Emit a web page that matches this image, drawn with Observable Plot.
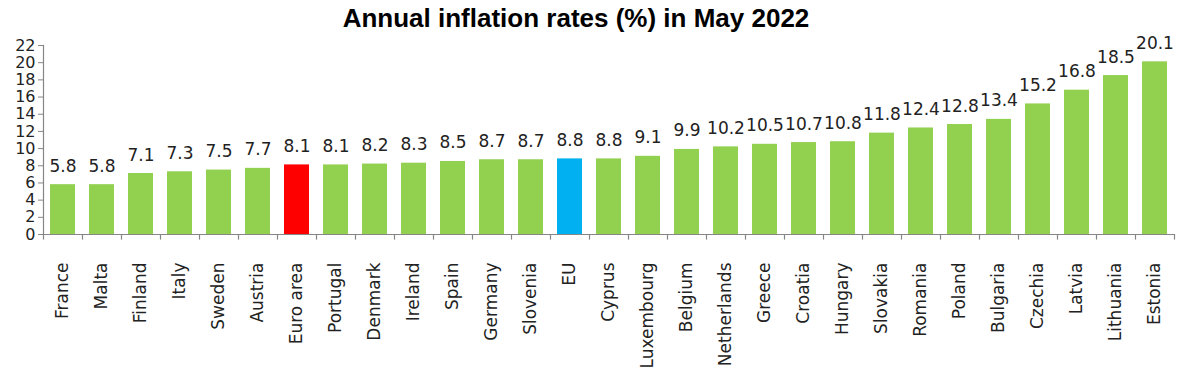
<!DOCTYPE html>
<html>
<head>
<meta charset="utf-8">
<script src="https://cdn.jsdelivr.net/npm/d3@7"></script>
<script src="https://cdn.jsdelivr.net/npm/@observablehq/plot@0.6"></script>
<style>
  body { margin: 0; background: #fff; }
  #title { width: 1152px; height: 25px; padding-top: 5px; text-align: center; white-space: nowrap;
    font: bold 26px/26px "Liberation Sans", Arial, sans-serif; color: #000; }
  #chart svg { display: block; }
</style>
</head>
<body>
<div id="title">Annual inflation rates (%) in May 2022</div>
<div id="chart"></div>
<script>
const countries = ["France","Malta","Finland","Italy","Sweden","Austria","Euro area","Portugal","Denmark","Ireland","Spain","Germany","Slovenia","EU","Cyprus","Luxembourg","Belgium","Netherlands","Greece","Croatia","Hungary","Slovakia","Romania","Poland","Bulgaria","Czechia","Latvia","Lithuania","Estonia"];
const values = [5.8,5.8,7.1,7.3,7.5,7.7,8.1,8.1,8.2,8.3,8.5,8.7,8.7,8.8,8.8,9.1,9.9,10.2,10.5,10.7,10.8,11.8,12.4,12.8,13.4,15.2,16.8,18.5,20.1];
const yTicks = [0,2,4,6,8,10,12,14,16,18,20,22];

const data = countries.map((c, i) => ({country: c, value: values[i]}));
const GREEN = "#92D050", RED = "#FF0000", BLUE = "#00B0F0", AXIS = "#868686";
const W = 1185, H = 349, ML = 43, MR = 11;
const step = (W - ML - MR) / countries.length;

const chart = Plot.plot({
  width: W, height: H,
  marginTop: 15, marginBottom: 145, marginLeft: ML, marginRight: MR,
  style: {fontFamily: "'DejaVu Sans', Verdana, sans-serif", background: "transparent", color: "#222", overflow: "visible"},
  x: {domain: countries, paddingInner: 0.36, paddingOuter: 0.18, label: null},
  y: {domain: [0, 22], label: null},
  color: {type: "identity"},
  marks: [
    Plot.barY(data, {x: "country", y: "value",
      fill: d => d.country === "Euro area" ? RED : d.country === "EU" ? BLUE : GREEN}),
    Plot.ruleY([0], {stroke: AXIS, strokeWidth: 1.2}),
    Plot.frame({anchor: "left", stroke: AXIS, strokeWidth: 1.2}),
    Plot.ruleX(countries, {x: d => d, y1: 0, y2: -0.65, dx: -step / 2, stroke: AXIS, strokeWidth: 1.2}),
    Plot.ruleX([countries[countries.length - 1]], {x: d => d, y1: 0, y2: -0.65, dx: step / 2, stroke: AXIS, strokeWidth: 1.2}),
    Plot.axisY({ticks: yTicks, tickSize: 5, tickPadding: 3, fontSize: 16, stroke: AXIS, fill: "#222", label: null}),
    Plot.axisX({tickRotate: -90, tickSize: 0, tickPadding: 28, fontSize: 17, fill: "#222", label: null}),
    Plot.text(data, {x: "country", y: "value", text: d => d.value.toFixed(1),
      dy: -13, lineAnchor: "bottom", fontSize: 17, fill: "#222"})
  ]
});
document.getElementById("chart").appendChild(chart);
</script>
</body>
</html>
